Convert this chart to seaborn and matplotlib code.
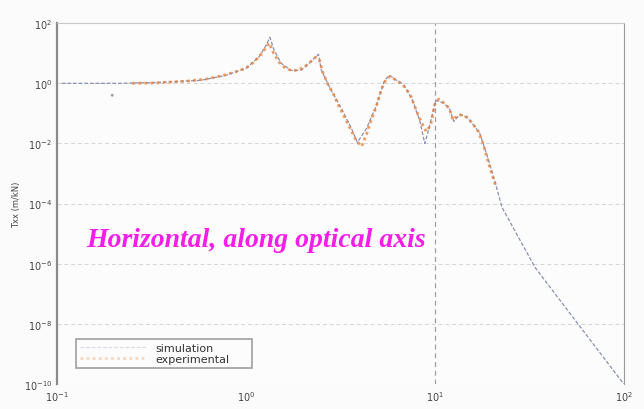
import numpy as np
import pandas as pd
import matplotlib
matplotlib.use("Agg")
import matplotlib.pyplot as plt
import seaborn as sns

# simulated transfer function (frequency in Hz, magnitude)
sim_freq = [0.106, 0.216, 0.353, 0.577, 0.783, 1.0, 1.17, 1.28, 1.34, 1.41, 1.54, 1.73,
            1.96, 2.16, 2.33, 2.42, 2.51, 2.83, 3.20, 3.62, 3.89, 4.35, 4.91, 5.42,
            5.76, 6.28, 6.84, 7.55, 8.32, 8.85, 9.40, 10.1, 10.9, 11.9, 12.6, 13.6,
            14.8, 16.1, 17.3, 18.9, 20.6, 22.7, 34.0, 58.3, 100.0]
sim_mag = [1.0, 1.0, 1.08, 1.26, 1.85, 3.16, 7.4, 18.5, 34.0, 12.6, 4.6, 2.7,
           2.7, 4.6, 7.4, 9.3, 2.7, 0.58, 0.147, 0.0316, 0.0108, 0.0316, 0.185, 1.26,
           1.85, 1.26, 0.93, 0.316, 0.058, 0.010, 0.040, 0.27, 0.23, 0.158, 0.054, 0.093,
           0.074, 0.040, 0.0215, 0.004, 6.8e-4, 7.4e-5, 7.4e-7, 8.6e-9, 1e-10]

# measured transfer function
exp_freq = [0.196, 0.25, 0.32, 0.40, 0.50, 0.62, 0.75, 0.88, 1.0, 1.1, 1.2, 1.28, 1.33,
            1.40, 1.5, 1.6, 1.75, 1.9, 2.05, 2.2, 2.35, 2.45, 2.55, 2.7, 2.9, 3.1,
            3.35, 3.6, 3.85, 4.1, 4.35, 4.6, 4.9, 5.2, 5.5, 5.8, 6.2, 6.6, 7.0, 7.5,
            8.0, 8.5, 9.0, 9.5, 10.0, 10.5, 11.2, 11.9, 12.5, 13.2, 14.0, 15.0, 16.0,
            17.0, 18.0, 19.0, 20.0, 21.0]
exp_mag = [0.4, 1.0, 1.02, 1.1, 1.2, 1.4, 1.8, 2.4, 3.2, 5.0, 9.0, 16.0, 22.0,
           10.0, 5.0, 3.4, 2.6, 2.8, 3.6, 5.2, 7.5, 6.0, 2.4, 1.0, 0.45, 0.18,
           0.07, 0.028, 0.012, 0.008, 0.02, 0.06, 0.17, 0.6, 1.3, 1.7, 1.3, 1.0, 0.7, 0.35,
           0.12, 0.05, 0.025, 0.04, 0.2, 0.3, 0.22, 0.15, 0.06, 0.085, 0.09, 0.07, 0.042,
           0.025, 0.01, 0.003, 0.001, 4e-4]

y_ticks = [1e-10, 1e-8, 1e-6, 1e-4, 1e-2, 1e0, 1e2]
x_ticks = [1e-1, 1e0, 1e1, 1e2]

sim = pd.DataFrame({"f": sim_freq, "mag": sim_mag})
meas = pd.DataFrame({"f": exp_freq, "mag": exp_mag})

sns.set_style("white")
fig = plt.figure(figsize=(6.44, 4.10), dpi=100, facecolor="#fbfbfb")
ax = fig.add_axes([0.0885, 0.061, 0.880, 0.880])
ax.set_facecolor("#fcfcfc")

sns.lineplot(data=sim, x="f", y="mag", ax=ax, color="#8a90b4", lw=0.9,
             linestyle=(0, (3, 1.5)), label="simulation", sort=False)
sns.lineplot(data=meas.iloc[1:], x="f", y="mag", ax=ax, color="#e8823e", lw=2.0,
             linestyle=(0, (1, 1.2)), alpha=0.8, label="experimental", sort=False)
sns.scatterplot(data=meas.iloc[:1], x="f", y="mag", ax=ax, color="#999999", s=4,
                edgecolor="none", legend=False)

ax.set_xscale("log")
ax.set_yscale("log")
ax.set_xlim(1e-1, 1e2)
ax.set_ylim(1e-10, 1e2)
ax.set_xticks(x_ticks)
ax.set_yticks(y_ticks)
ax.minorticks_off()
ax.tick_params(axis="both", labelsize=7, colors="#444444", direction="in", length=4)
ax.set_xlabel("")
ax.set_ylabel("Txx (m/kN)", fontsize=6, color="#444444", labelpad=2)

ax.grid(True, axis="y", which="major", color="#d4d4d4", linestyle=(0, (4, 3)), lw=0.7)
ax.axvline(10, color="#a0a0a0", linestyle=(0, (4, 3)), lw=0.9)

for side in ["top", "right", "left"]:
    ax.spines[side].set_visible(True)
ax.spines["left"].set_color("#8a8a8a")
ax.spines["left"].set_linewidth(1.6)
ax.spines["top"].set_color("#c8c8c8")
ax.spines["right"].set_color("#9a9a9a")
ax.spines["bottom"].set_visible(False)

ax.text(0.052, 0.40, "Horizontal, along optical axis", transform=ax.transAxes,
        fontsize=20, color="#f51ee8", fontweight="bold", fontstyle="italic",
        family="Liberation Serif", va="center", ha="left")

leg = ax.legend(loc="lower left", bbox_to_anchor=(0.023, 0.028, 0.331, 0.105),
                mode="expand", fontsize=8, handlelength=6.0, frameon=True,
                fancybox=False, borderpad=0.4, labelspacing=0.05)
leg.get_frame().set_edgecolor("#888888")
leg.get_frame().set_linewidth(1.2)
leg.get_frame().set_facecolor("#fcfcfc")
for t in leg.get_texts():
    t.set_color("#333333")
for h in leg.get_lines():
    h.set_alpha(0.3)

fig.savefig("out.png", dpi=100, facecolor=fig.get_facecolor())
